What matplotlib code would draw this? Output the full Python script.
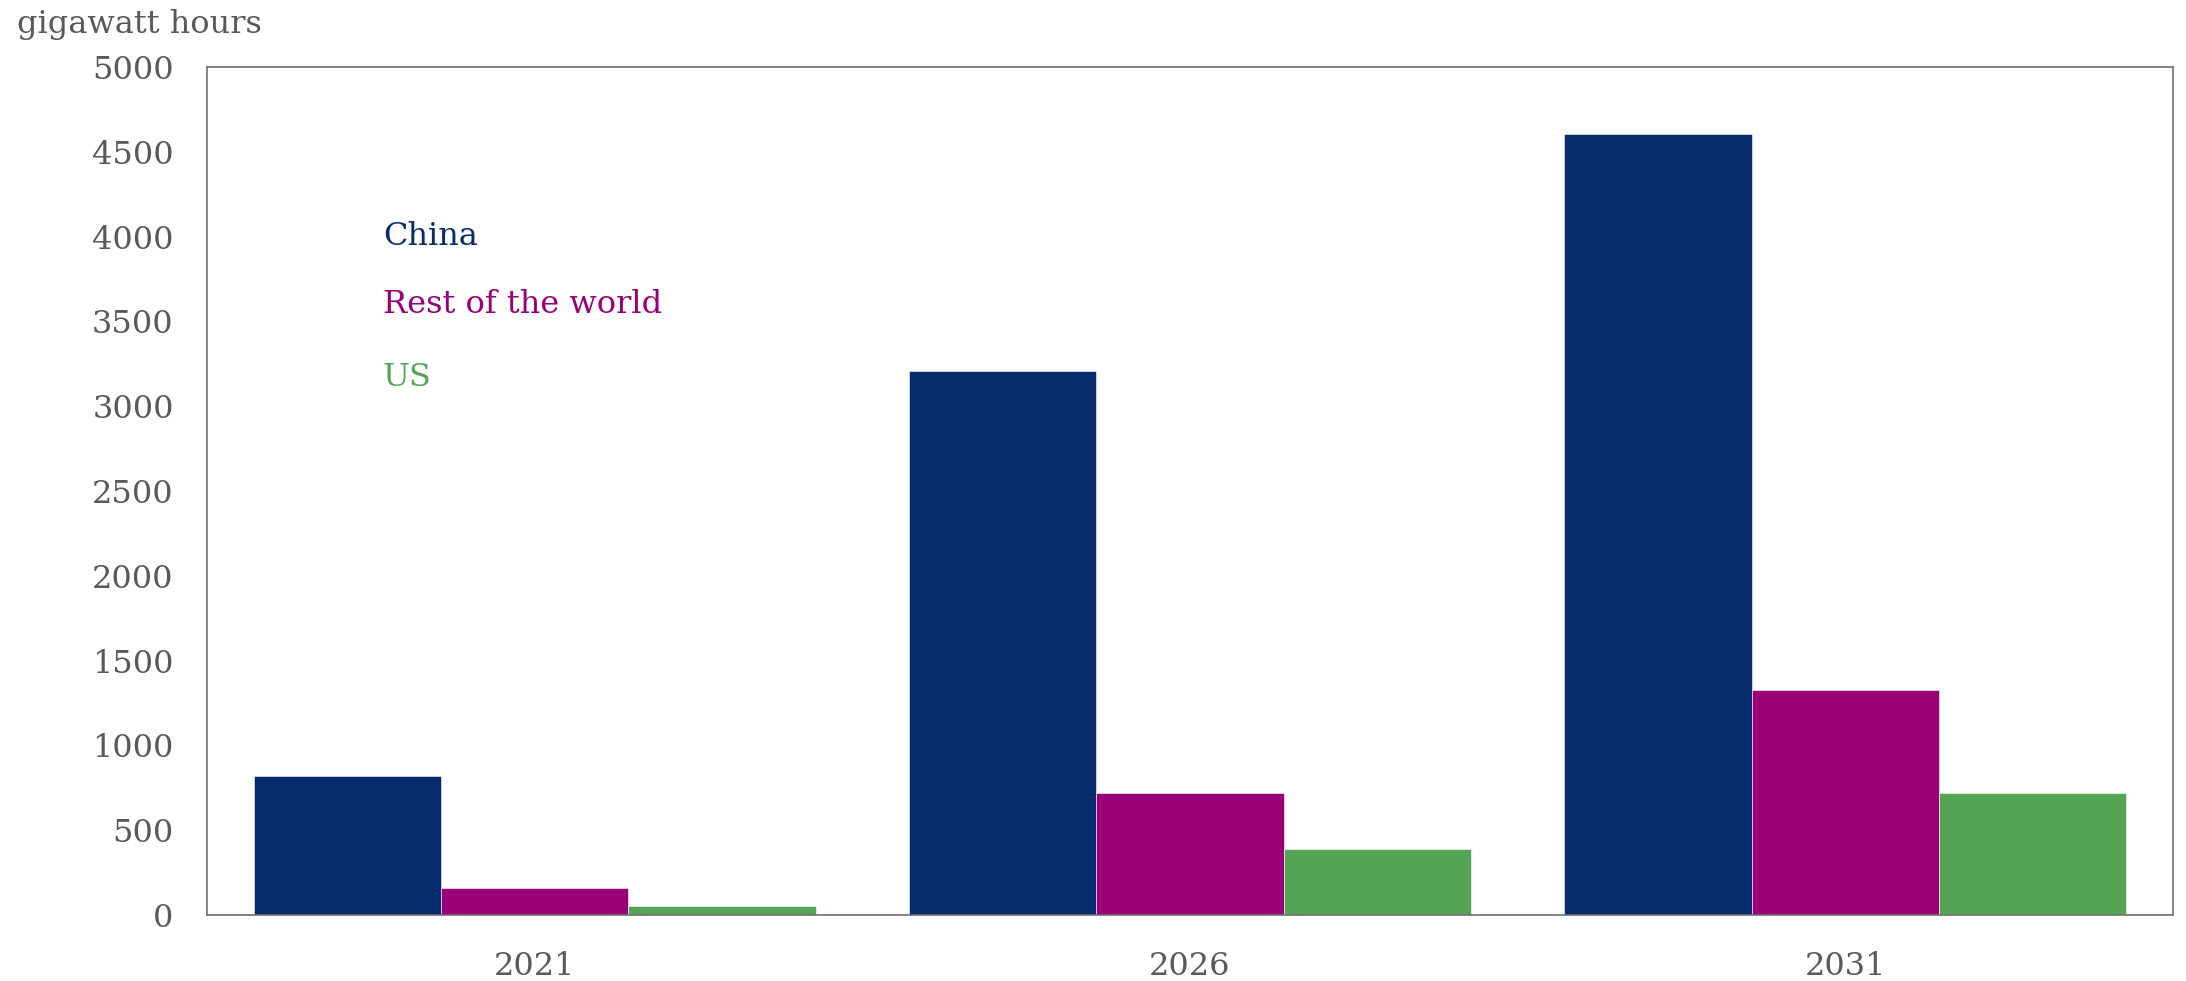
import numpy as np
import matplotlib.pyplot as plt

years = ['2021', '2026', '2031']
series = ['China', 'Rest of the world', 'US']
china = [820, 3206, 4607]
rest_of_world = [157, 718, 1325]
us = [55, 387, 721]
colors = ['#062c6b', '#990077', '#55a355']

plt.rcParams['font.family'] = ['DejaVu Serif']
grey = '#595959'

fig = plt.figure(figsize=(21.86, 9.81), dpi=100)
ax = fig.add_axes([207 / 2186, 66 / 981, 1966 / 2186, 848 / 981])

x = np.arange(len(years))
width = 2 / 7
for i, (vals, c) in enumerate(zip([china, rest_of_world, us], colors)):
    ax.bar(x + (i - 1) * width, vals, width, color=c, edgecolor='white', linewidth=0.4)

ax.set_xlim(-0.5, 2.5)
ax.set_ylim(0, 5000)
ax.set_yticks(np.arange(0, 5001, 500))
ax.set_xticks(x)
ax.set_xticklabels(years)
ax.tick_params(length=0, labelsize=23, colors=grey)
ax.tick_params(axis='x', pad=26)
ax.tick_params(axis='y', pad=24)
for s in ax.spines.values():
    s.set_color('#707070')
    s.set_linewidth(1.2)

fig.text(17 / 2186, 1 - 33 / 981, 'gigawatt hours', fontsize=23, color=grey,
         ha='left', va='baseline')

label_y = [0.790, 0.710, 0.624]
for name, c, yy in zip(series, colors, label_y):
    ax.text(0.0895, yy, name, transform=ax.transAxes, fontsize=23, color=c,
            ha='left', va='baseline')

fig.savefig('out.png', dpi=100)
